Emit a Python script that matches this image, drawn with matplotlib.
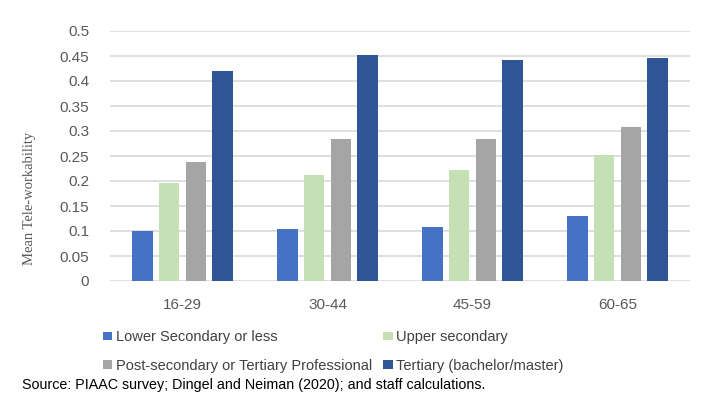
import matplotlib
matplotlib.use("Agg")
import matplotlib.pyplot as plt
import numpy as np

# data
age_groups = ["16-29", "30-44", "45-59", "60-65"]
lower_secondary = [0.100, 0.104, 0.109, 0.131]
upper_secondary = [0.196, 0.212, 0.222, 0.253]
post_secondary = [0.238, 0.284, 0.285, 0.309]
tertiary = [0.420, 0.452, 0.443, 0.447]

series_names = ["Lower Secondary or less", "Upper secondary",
                "Post-secondary or Tertiary Professional", "Tertiary (bachelor/master)"]
colors = ["#4472C4", "#C5E0B4", "#A5A5A5", "#2F5597"]
yticks = [0, 0.05, 0.1, 0.15, 0.2, 0.25, 0.3, 0.35, 0.4, 0.45, 0.5]
ytick_labels = ["0", "0.05", "0.1", "0.15", "0.2", "0.25", "0.3", "0.35", "0.4", "0.45", "0.5"]

plt.rcParams['font.family'] = ['Liberation Sans', 'DejaVu Sans']

W, H = 723, 393
fig = plt.figure(figsize=(W / 100, H / 100), dpi=100)
ax = fig.add_axes([110 / W, 1 - 281 / H, 580 / W, 250 / H])

x = np.arange(len(age_groups))
pitch = 0.183
width = 0.141
all_series = [lower_secondary, upper_secondary, post_secondary, tertiary]
bars = []
for i, vals in enumerate(all_series):
    b = ax.bar(x + (i - 1.5) * pitch, vals, width, color=colors[i],
               label=series_names[i], zorder=3)
    bars.append(b)

ax.set_xlim(-0.5, len(age_groups) - 0.5)
ax.set_ylim(0, 0.5)
ax.set_yticks(yticks)
ax.set_yticklabels(ytick_labels)
ax.set_xticks(x)
ax.set_xticklabels(age_groups)
ax.tick_params(axis='both', length=0, labelsize=11, colors="#595959")
ax.tick_params(axis='y', pad=15)
ax.tick_params(axis='x', pad=12)
ax.grid(axis='y', color="#D9D9D9", linewidth=1.2, zorder=0)
for s in ax.spines.values():
    s.set_visible(False)

ax.set_ylabel("Mean Tele-workability", family=['Liberation Serif', 'DejaVu Serif'],
              fontsize=10.5, color="#595959")
ax.yaxis.set_label_coords((36 - 110) / 580, 0.33)

# legend fills by column, so order it to read row by row like the original
order = [0, 2, 1, 3]
leg = fig.legend([bars[k] for k in order], [series_names[k] for k in order],
                 loc='upper left', bbox_to_anchor=(103 / W, 1 - 330 / H), ncol=2,
                 frameon=False, fontsize=10.5, handlelength=0.65, handleheight=0.5,
                 handletextpad=0.25, columnspacing=0.75, labelspacing=1.0,
                 borderpad=0, borderaxespad=0)
for t in leg.get_texts():
    t.set_color("#404040")

fig.text(22 / W, 1 - 385 / H, "Source: PIAAC survey; Dingel and Neiman (2020); and staff calculations.",
         fontsize=10.25, va='center', ha='left', color="black")

fig.savefig("out.png", dpi=100)
